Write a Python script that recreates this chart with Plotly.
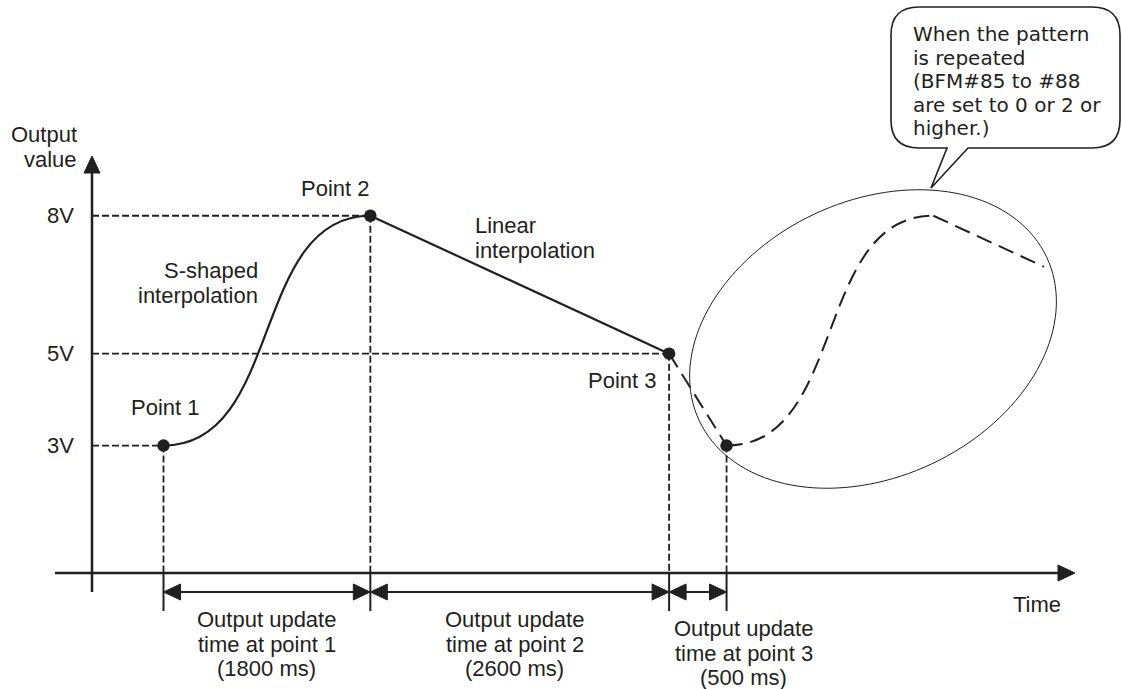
import numpy as np
import plotly.graph_objects as go

# ---------------- data ----------------
point_names = ["Point 1", "Point 2", "Point 3"]
output_values_v = [3, 8, 5]             # output value at each point (V)
update_times_ms = [1800, 2600, 500]     # output update time at each point (ms)
level_labels = ["3V", "8V", "5V"]
y_title_lines = ["Output", "value"]
x_title = "Time"
s_label_lines = ["S-shaped", "interpolation"]
lin_label_lines = ["Linear", "interpolation"]
callout_lines = ["When the pattern", "is repeated", "(BFM#85 to #88",
                 "are set to 0 or 2 or", "higher.)"]

# ---------------- derived positions ----------------
t_points = np.concatenate([[0], np.cumsum(update_times_ms)])   # P1, P2, P3, P1 (repeat)
v_points = output_values_v + [output_values_v[0]]

# ---------------- layout / style ----------------
W, H = 1122, 689
X0, XS = 163.5, 0.11491     # pixel of t=0, pixels per ms
Y0, YS = 583.5, 45.97       # pixel of 0 V, pixels per V
INK = "#231f20"
FONT = "Liberation Sans, Arial, Helvetica, sans-serif"
CFONT = "DejaVu Sans, Liberation Sans, sans-serif"
GUIDE_DASH = "7px,3px"
REPEAT_DASH = "16px,8px"
S_K = 0.58
REPEAT_SHOWN = 0.37
LS = 24.8          # line spacing of stacked labels (px)


def tx(px):
    return (px - X0) / XS


def vy(py):
    return (Y0 - py) / YS


fig = go.Figure()


def line(x0, y0, x1, y1, width=2.0, dash="solid"):
    fig.add_shape(type="line", x0=x0, y0=y0, x1=x1, y1=y1, xref="x", yref="y",
                  line=dict(color=INK, width=width, dash=dash))


def tri(points):
    p = "M " + " L ".join(f"{a},{b}" for a, b in points) + " Z"
    fig.add_shape(type="path", path=p, xref="x", yref="y",
                  fillcolor=INK, line=dict(color=INK, width=1))


def text(x, y, s, xanchor="center", yanchor="middle", xshift=0, yshift=0,
         size=22, family=FONT):
    fig.add_annotation(x=x, y=y, xref="x", yref="y", text=s, showarrow=False,
                       xanchor=xanchor, yanchor=yanchor, xshift=xshift, yshift=yshift,
                       borderpad=0, borderwidth=0,
                       font=dict(family=family, size=size, color=INK))


def s_path(ta, va, tb, vb, k=S_K):
    d = tb - ta
    return f"M {ta},{va} C {ta + k * d},{va} {tb - k * d},{vb} {tb},{vb}"


axis_v = vy(573)
tick_v = vy(611)
dim_v = vy(592)
yaxis_t = tx(92)

# ---- axes ----
line(tx(55), axis_v, tx(1060), axis_v, width=2.5)
tri([(tx(1075), axis_v), (tx(1058), axis_v + 8 / YS), (tx(1058), axis_v - 8 / YS)])
line(yaxis_t, vy(592), yaxis_t, vy(170), width=2.5)
tri([(yaxis_t, vy(156)), (yaxis_t - 8 / XS, vy(173)), (yaxis_t + 8 / XS, vy(173))])

# ---- guides ----
for i in range(3):
    line(yaxis_t, v_points[i], t_points[i], v_points[i], width=1.8, dash=GUIDE_DASH)
for i in range(4):
    line(t_points[i], v_points[i], t_points[i], axis_v, width=1.8, dash=GUIDE_DASH)
    line(t_points[i], axis_v, t_points[i], tick_v, width=2)

# ---- dimension arrows ----
AH, HH = 17 / XS, 8 / YS
for i in range(3):
    a, b = t_points[i], t_points[i + 1]
    line(a + AH * 0.8, dim_v, b - AH * 0.8, dim_v, width=2)
    tri([(a, dim_v), (a + AH, dim_v + HH), (a + AH, dim_v - HH)])
    tri([(b, dim_v), (b - AH, dim_v + HH), (b - AH, dim_v - HH)])

# ---- S-shaped interpolation P1 -> P2 ----
fig.add_shape(type="path", xref="x", yref="y",
              path=s_path(t_points[0], v_points[0], t_points[1], v_points[1]),
              line=dict(color=INK, width=2.2))
# ---- linear interpolation P2 -> P3 ----
fig.add_trace(go.Scatter(x=t_points[1:3], y=v_points[1:3], mode="lines",
                         line=dict(color=INK, width=2.2), hoverinfo="skip"))

# ---- repeated pattern (dashed) ----
fig.add_trace(go.Scatter(x=t_points[2:4], y=v_points[2:4], mode="lines",
                         line=dict(color=INK, width=2, dash=REPEAT_DASH), hoverinfo="skip"))
r_t0 = t_points[3]
r_t1 = r_t0 + update_times_ms[0]
fig.add_shape(type="path", xref="x", yref="y",
              path=s_path(r_t0, output_values_v[0], r_t1, output_values_v[1]),
              line=dict(color=INK, width=2, dash=REPEAT_DASH))
r_t2 = r_t1 + REPEAT_SHOWN * update_times_ms[1]
r_v2 = output_values_v[1] + REPEAT_SHOWN * (output_values_v[2] - output_values_v[1])
fig.add_trace(go.Scatter(x=[r_t1, r_t2], y=[output_values_v[1], r_v2], mode="lines",
                         line=dict(color=INK, width=2, dash=REPEAT_DASH), hoverinfo="skip"))

# ---- points ----
fig.add_trace(go.Scatter(x=t_points, y=v_points, mode="markers",
                         marker=dict(color=INK, size=12.5), hoverinfo="skip"))

# ---- highlight ellipse ----
cx, cy, ea, eb, th = 873, 339, 192, 138, np.deg2rad(25.2)
phi = np.linspace(0, 2 * np.pi, 145)
ex = cx + ea * np.cos(phi) * np.cos(th) + eb * np.sin(phi) * np.sin(th)
ey = cy - ea * np.cos(phi) * np.sin(th) + eb * np.sin(phi) * np.cos(th)
epath = "M " + " L ".join(f"{tx(a):.2f},{vy(b):.4f}" for a, b in zip(ex, ey)) + " Z"
fig.add_shape(type="path", path=epath, xref="x", yref="y", line=dict(color=INK, width=1))

# ---- callout bubble ----
L, R, T, B, r = 891, 1120, 7, 148, 28
pts = [("M", L + r, T), ("L", R - r, T), ("Q", R, T, R, T + r), ("L", R, B - r),
       ("Q", R, B, R - r, B), ("L", 968, B), ("L", 931, 188), ("L", 947, B),
       ("L", L + r, B), ("Q", L, B, L, B - r), ("L", L, T + r), ("Q", L, T, L + r, T)]
cp = ""
for seg in pts:
    cmd, vals = seg[0], seg[1:]
    coords = " ".join(f"{tx(vals[j]):.2f},{vy(vals[j + 1]):.4f}" for j in range(0, len(vals), 2))
    cp += f"{cmd} {coords} "
cp += "Z"
fig.add_shape(type="path", path=cp, xref="x", yref="y", fillcolor="white",
              line=dict(color=INK, width=1.6))
for i, s in enumerate(callout_lines):
    text(tx(913), vy(34 + 23.6 * i), s, xanchor="left", size=20, family=CFONT)

# ---- texts ----
text(tx(77), vy(134), y_title_lines[0], xanchor="right")
text(tx(77), vy(159), y_title_lines[1], xanchor="right")
for v, lab in zip(output_values_v, level_labels):
    text(tx(74), v, lab, xanchor="right")
text(tx(1037), vy(604), x_title)

point_shifts = [(2, 38), (-35, 27), (-47, -27)]
for i, name in enumerate(point_names):
    text(t_points[i], v_points[i], name, xshift=point_shifts[i][0], yshift=point_shifts[i][1])

for j, s in enumerate(s_label_lines):
    text(tx(258), vy(283 + LS * (j - 0.5)), s, xanchor="right")
for j, s in enumerate(lin_label_lines):
    text(tx(475), vy(238 + LS * (j - 0.5)), s, xanchor="left")

span_xshift = [0, -5, 46]
span_mid_row = [644, 644, 653]
for i, ms in enumerate(update_times_ms):
    mid = (t_points[i] + t_points[i + 1]) / 2
    lines = ["Output update", f"time at point {i + 1}", f"({ms} ms)"]
    for j, s in enumerate(lines):
        text(mid, vy(span_mid_row[i] + LS * (j - 1)), s, xshift=span_xshift[i])

fig.update_layout(
    width=W, height=H, margin=dict(l=0, r=0, t=0, b=0, pad=0),
    paper_bgcolor="white", plot_bgcolor="white", showlegend=False,
    xaxis=dict(range=[tx(0), tx(W)], visible=False, fixedrange=True),
    yaxis=dict(range=[vy(H), vy(0)], visible=False, fixedrange=True),
)

fig.write_html("out.html", config={"displayModeBar": False},
               post_script="document.body.style.margin='0px';")
